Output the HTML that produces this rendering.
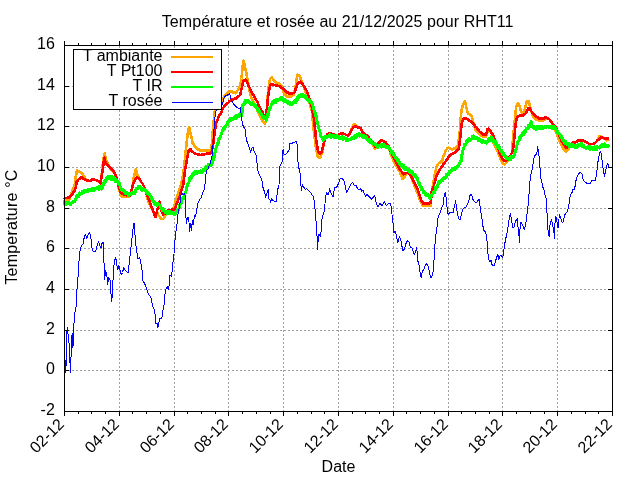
<!DOCTYPE html>
<html lang="fr"><head><meta charset="utf-8"><title>Température et rosée au 21/12/2025 pour RHT11</title>
<style>html,body{margin:0;padding:0;background:#fff}body{width:640px;height:480px;overflow:hidden}svg{display:block;filter:opacity(0.999)}text{font-family:"Liberation Sans",sans-serif;font-size:16px;fill:#000}</style></head><body>
<svg width="640" height="480" viewBox="0 0 640 480">
<rect width="640" height="480" fill="#fff"/>
<path d="M119.5,46 V411 M174.5,46 V411 M228.5,46 V411 M283.5,46 V411 M338.5,46 V411 M393.5,46 V411 M448.5,46 V411 M502.5,46 V411 M557.5,46 V411 M64,86.5 H612 M64,126.5 H612 M64,167.5 H612 M64,208.5 H612 M64,248.5 H612 M64,289.5 H612 M64,330.5 H612 M64,370.5 H612" stroke="#a0a0a0" stroke-width="1" stroke-dasharray="2,2" fill="none" shape-rendering="crispEdges"/>
<path d="M64.5,411 V416 M64.5,46 V41 M119.5,411 V416 M119.5,46 V41 M174.5,411 V416 M174.5,46 V41 M228.5,411 V416 M228.5,46 V41 M283.5,411 V416 M283.5,46 V41 M338.5,411 V416 M338.5,46 V41 M393.5,411 V416 M393.5,46 V41 M448.5,411 V416 M448.5,46 V41 M502.5,411 V416 M502.5,46 V41 M557.5,411 V416 M557.5,46 V41 M612.5,411 V416 M612.5,46 V41 M78.5,411 V414 M78.5,46 V43 M91.5,411 V414 M91.5,46 V43 M105.5,411 V414 M105.5,46 V43 M132.5,411 V414 M132.5,46 V43 M146.5,411 V414 M146.5,46 V43 M160.5,411 V414 M160.5,46 V43 M187.5,411 V414 M187.5,46 V43 M201.5,411 V414 M201.5,46 V43 M215.5,411 V414 M215.5,46 V43 M242.5,411 V414 M242.5,46 V43 M256.5,411 V414 M256.5,46 V43 M270.5,411 V414 M270.5,46 V43 M297.5,411 V414 M297.5,46 V43 M311.5,411 V414 M311.5,46 V43 M324.5,411 V414 M324.5,46 V43 M352.5,411 V414 M352.5,46 V43 M365.5,411 V414 M365.5,46 V43 M379.5,411 V414 M379.5,46 V43 M406.5,411 V414 M406.5,46 V43 M420.5,411 V414 M420.5,46 V43 M434.5,411 V414 M434.5,46 V43 M461.5,411 V414 M461.5,46 V43 M475.5,411 V414 M475.5,46 V43 M489.5,411 V414 M489.5,46 V43 M516.5,411 V414 M516.5,46 V43 M530.5,411 V414 M530.5,46 V43 M544.5,411 V414 M544.5,46 V43 M571.5,411 V414 M571.5,46 V43 M585.5,411 V414 M585.5,46 V43 M598.5,411 V414 M598.5,46 V43 M64,45.5 H69 M613,45.5 H608 M64,86.5 H69 M613,86.5 H608 M64,126.5 H69 M613,126.5 H608 M64,167.5 H69 M613,167.5 H608 M64,208.5 H69 M613,208.5 H608 M64,248.5 H69 M613,248.5 H608 M64,289.5 H69 M613,289.5 H608 M64,330.5 H69 M613,330.5 H608 M64,370.5 H69 M613,370.5 H608 M64,411.5 H69 M613,411.5 H608" stroke="#000" stroke-width="1" fill="none" shape-rendering="crispEdges"/>
<g fill="none" stroke-linejoin="round" stroke-linecap="butt" shape-rendering="crispEdges">
<path d="M63.60,199.35 L64.10,199.53 L64.60,199.71 L65.10,199.63 L65.60,199.61 L66.10,199.36 L66.60,199.57 L67.10,199.32 L67.60,198.93 L68.10,199.13 L68.60,198.79 L69.10,199.34 L69.60,198.75 L70.10,196.92 L70.60,195.49 L71.10,194.43 L71.60,192.73 L72.10,191.41 L72.60,190.13 L73.10,188.97 L73.60,187.89 L74.10,186.85 L74.60,185.05 L75.10,181.99 L75.60,177.54 L76.10,175.13 L76.60,172.41 L77.10,170.47 L77.60,171.07 L78.10,170.96 L78.60,171.14 L79.10,171.67 L79.60,172.19 L80.10,172.28 L80.60,172.26 L81.10,172.95 L81.60,173.25 L82.10,173.22 L82.60,174.13 L83.10,175.02 L83.60,175.97 L84.10,176.18 L84.60,177.25 L85.10,178.33 L85.60,178.86 L86.10,179.72 L86.25,179.99" stroke="#ffa500" stroke-width="2.6"/>
<path d="M100.80,183.06 L101.30,178.01 L101.80,173.78 L102.30,169.05 L102.80,164.04 L103.30,160.38 L103.80,157.59 L104.30,155.13 L104.80,153.23 L105.30,156.27 L105.80,158.69 L106.30,160.95 L106.80,161.35 L107.30,162.47 L107.80,163.36 L108.30,164.76 L108.80,165.40 L109.30,166.39 L109.80,167.21 L110.30,168.35 L110.80,169.10 L111.30,169.85 L111.80,170.50 L112.30,170.91 L112.80,171.28 L113.30,172.28 L113.80,172.68 L114.30,173.17 L114.80,173.82 L115.30,174.43 L115.80,175.67 L116.30,176.95 L116.80,178.18 L117.30,180.83 L117.80,183.14 L118.30,186.23 L118.80,188.91 L119.30,190.17 L119.80,191.33 L120.30,193.20 L120.80,194.10 L121.30,195.88 L121.80,196.98 L122.30,197.10 L122.80,197.10 L123.30,196.93 L123.80,196.89 L124.30,197.16 L124.80,197.10 L125.30,196.80 L125.80,197.01 L126.30,196.88 L126.80,196.90 L127.30,197.16 L127.80,196.77 L128.30,197.16 L128.80,196.96 L129.30,196.20 L129.80,194.97 L130.30,194.27 L130.80,193.47 L131.30,192.23 L131.80,190.70 L132.30,187.56 L132.80,184.16 L133.30,180.27 L133.80,177.41 L134.30,175.17 L134.80,172.89 L135.30,170.58 L135.80,169.32 L136.30,170.76 L136.80,172.62 L137.30,174.00 L137.80,175.36 L138.30,176.19 L138.80,177.65 L139.30,178.27 L139.80,179.76 L140.30,180.57 L140.80,181.04 L141.00,181.20" stroke="#ffa500" stroke-width="2.6"/>
<path d="M146.50,195.75 L147.00,197.53 L147.50,198.66 L148.00,200.48 L148.50,201.85 L149.00,202.93 L149.50,204.10 L150.00,205.08 L150.50,205.73 L151.00,207.06 L151.50,208.12 L152.00,209.04 L152.50,210.29 L153.00,211.18 L153.50,211.92 L154.00,212.90 L154.50,214.02 L155.00,215.69 L155.50,216.80 L155.60,216.98" stroke="#ffa500" stroke-width="2.6"/>
<path d="M157.00,212.34 L157.50,213.33 L158.00,214.88 L158.50,215.64 L159.00,215.87 L159.50,216.37 L160.00,217.33 L160.50,217.59 L161.00,218.37 L161.50,219.11 L162.00,219.27 L162.50,218.92 L163.00,219.07 L163.50,218.50 L164.00,218.05 L164.50,216.60 L165.00,215.86 L165.50,214.90 L166.00,213.90 L166.50,213.12 L167.00,211.83 L167.50,210.94 L167.50,211.16" stroke="#ffa500" stroke-width="2.6"/>
<path d="M173.00,210.32 L173.50,208.68 L174.00,207.00 L174.50,205.07 L175.00,203.49 L175.50,201.79 L176.00,199.89 L176.50,197.59 L177.00,196.26 L177.50,195.33 L178.00,193.35 L178.50,192.30 L179.00,190.63 L179.50,189.41 L180.00,188.13 L180.50,186.49 L181.00,184.92 L181.50,182.54 L182.00,180.42 L182.50,178.09 L183.00,174.74 L183.50,171.58 L184.00,167.97 L184.50,163.65 L185.00,158.58 L185.50,153.60 L186.00,148.54 L186.50,144.28 L187.00,139.82 L187.50,135.23 L188.00,132.09 L188.50,129.47 L189.00,127.09 L189.50,128.14 L190.00,131.09 L190.50,133.04 L191.00,135.83 L191.50,137.57 L192.00,140.31 L192.50,142.71 L193.00,143.41 L193.50,144.35 L194.00,145.43 L194.50,146.37 L195.00,146.68 L195.50,147.33 L196.00,147.40 L196.50,148.05 L197.00,148.30 L197.50,148.73 L198.00,149.47 L198.50,149.50 L199.00,149.79 L199.50,149.76 L200.00,150.39 L200.50,150.06 L201.00,150.01 L201.50,150.46 L202.00,150.60 L202.50,150.61 L203.00,150.62 L203.50,150.56 L204.00,150.61 L204.50,150.25 L205.00,150.54 L205.50,150.36 L206.00,150.39 L206.50,150.34 L207.00,150.27 L207.50,150.22 L208.00,150.39 L208.50,150.70 L209.00,150.76 L209.50,150.55 L210.00,151.34 L210.50,151.01 L211.00,149.94 L211.50,148.29 L212.00,141.94 L212.50,135.05 L213.00,129.06 L213.50,123.22 L214.00,118.08 L214.50,113.86 L215.00,110.05 L215.50,109.32 L216.00,108.10 L216.50,107.24 L217.00,105.66 L217.50,105.13 L218.00,103.80 L218.00,103.76" stroke="#ffa500" stroke-width="2.6"/>
<path d="M222.50,102.76 L223.00,99.89 L223.50,97.70 L224.00,96.32 L224.50,95.37 L225.00,95.19 L225.50,94.38 L226.00,93.76 L226.50,93.39 L227.00,93.20 L227.50,92.41 L228.00,92.40 L228.50,91.81 L229.00,91.31 L229.50,91.22 L230.00,91.30 L230.50,91.45 L231.00,91.85 L231.50,91.98 L232.00,91.60 L232.50,92.24 L233.00,92.17 L233.50,92.61 L234.00,92.70 L234.50,92.69 L235.00,92.69 L235.50,93.36 L236.00,92.90 L236.50,91.94 L237.00,90.90 L237.50,90.70 L238.00,89.97 L238.50,89.36 L239.00,88.33 L239.50,86.83 L240.00,85.17 L240.50,83.42 L241.00,82.02 L241.50,78.50 L242.00,73.18 L242.50,67.59 L243.00,64.28 L243.50,60.61 L244.00,62.55 L244.50,64.69 L245.00,66.45 L245.50,69.18 L246.00,71.65 L246.50,73.88 L247.00,76.76 L247.50,79.53 L248.00,82.36 L248.50,84.82 L249.00,87.28 L249.50,90.01 L250.00,92.70 L250.50,94.76 L251.00,96.83 L251.50,98.06 L252.00,98.67 L252.50,99.80 L253.00,100.71 L253.50,102.28 L254.00,102.91 L254.50,104.19 L255.00,105.01 L255.50,106.11 L256.00,107.42 L256.50,108.43 L257.00,109.18 L257.50,110.72 L258.00,111.68 L258.50,113.26 L259.00,113.92 L259.50,115.02 L260.00,116.51 L260.50,117.16 L261.00,117.93 L261.50,119.44 L262.00,120.54 L262.50,121.24 L263.00,121.52 L263.50,122.51 L264.00,122.64 L264.50,123.07 L265.00,123.43 L265.50,122.52 L266.00,120.56 L266.50,115.52 L267.00,107.27 L267.50,99.47 L268.00,91.90 L268.50,87.43 L269.00,84.75 L269.50,81.55 L270.00,79.00 L270.50,78.41 L271.00,78.22 L271.50,78.00 L272.00,77.67 L272.50,78.38 L273.00,78.81 L273.50,79.67 L274.00,80.78 L274.50,81.49 L275.00,81.66 L275.50,81.59 L276.00,82.38 L276.50,82.75 L277.00,83.05 L277.50,83.28 L278.00,83.34 L278.50,83.25 L279.00,83.39 L279.50,83.40 L280.00,83.85 L280.50,84.47 L281.00,85.62 L281.50,86.05 L282.00,87.04 L282.50,88.43 L283.00,90.08 L283.50,91.94 L284.00,93.03 L284.50,93.68 L285.00,93.66 L285.50,94.71 L286.00,95.22 L286.50,95.67 L287.00,96.58 L287.50,96.50 L288.00,96.35 L288.50,96.82 L289.00,96.65 L289.50,96.77 L290.00,96.88 L290.50,96.63 L291.00,96.06 L291.50,96.36 L292.00,95.75 L292.50,95.60 L293.00,95.15 L293.50,95.17 L294.00,93.66 L294.50,91.57 L295.00,89.62 L295.50,87.05 L296.00,83.22 L296.50,80.04 L297.00,76.85 L297.50,74.37 L298.00,74.88 L298.50,75.20 L299.00,75.31 L299.50,75.54 L300.00,76.94 L300.50,78.53 L301.00,79.68 L301.50,80.76 L302.00,81.92 L302.50,83.45 L303.00,84.78 L303.50,86.08 L304.00,87.75 L304.50,88.93 L305.00,90.00 L305.50,91.83 L306.00,93.19 L306.50,94.17 L307.00,95.85 L307.50,97.56 L308.00,98.71 L308.50,100.12 L309.00,101.37 L309.50,102.80 L310.00,104.94 L310.50,106.20 L311.00,108.07 L311.50,109.57 L312.00,112.30 L312.50,117.61 L313.00,122.57 L313.50,127.70 L314.00,132.14 L314.50,136.79 L315.00,140.61 L315.50,144.31 L316.00,148.43 L316.50,150.81 L317.00,153.02 L317.50,155.42 L318.00,157.03 L318.50,157.60 L319.00,157.73 L319.50,157.82 L320.00,157.97 L320.50,157.19 L321.00,155.47 L321.50,154.36 L322.00,153.48 L322.50,151.00 L323.00,148.37 L323.50,145.99 L323.50,145.98" stroke="#ffa500" stroke-width="2.6"/>
<path d="M350.50,132.15 L351.00,130.84 L351.50,128.79 L352.00,128.00 L352.50,126.47 L353.00,125.45 L353.50,125.49 L354.00,125.00 L354.50,124.25 L355.00,125.12 L355.50,125.02 L356.00,125.40 L356.50,125.98 L357.00,126.55 L357.50,127.13 L358.00,127.34 L358.00,127.49" stroke="#ffa500" stroke-width="2.6"/>
<path d="M371.00,140.82 L371.50,142.01 L372.00,143.24 L372.50,143.97 L373.00,144.81 L373.50,145.64 L374.00,146.50 L374.50,148.10 L375.00,148.93 L375.50,148.32 L376.00,148.30 L376.50,147.83 L377.00,147.13 L377.50,145.85 L378.00,145.04 L378.10,144.78" stroke="#ffa500" stroke-width="2.6"/>
<path d="M389.00,147.74 L389.50,150.05 L390.00,151.93 L390.50,153.42 L391.00,155.18 L391.50,156.54 L392.00,157.46 L392.50,158.55 L393.00,159.54 L393.50,161.00 L394.00,161.53 L394.50,162.53 L395.00,164.05 L395.50,164.92 L396.00,165.22 L396.50,166.25 L397.00,167.59 L397.50,168.05 L398.00,169.09 L398.50,170.01 L399.00,170.85 L399.50,171.31 L400.00,172.66 L400.50,173.97 L401.00,174.96 L401.50,176.14 L402.00,177.66 L402.50,179.09 L403.00,178.73 L403.50,177.88 L404.00,177.94 L404.50,177.27 L405.00,176.53 L405.50,175.42 L406.00,173.99 L406.00,174.28" stroke="#ffa500" stroke-width="2.6"/>
<path d="M410.50,175.85 L411.00,177.11 L411.50,178.30 L412.00,179.12 L412.50,180.54 L413.00,181.99 L413.50,182.95 L414.00,184.19 L414.50,185.64 L415.00,186.67 L415.50,187.81 L416.00,189.47 L416.50,190.26 L417.00,192.09 L417.50,193.49 L418.00,194.67 L418.50,196.06 L419.00,197.16 L419.50,198.64 L420.00,200.40 L420.50,201.41 L421.00,202.37 L421.50,203.07 L422.00,204.52 L422.50,205.56 L423.00,205.55 L423.50,205.49 L424.00,205.41 L424.50,205.47 L425.00,205.36 L425.50,205.36 L426.00,206.09 L426.50,205.72 L427.00,205.69 L427.50,205.73 L428.00,206.06 L428.50,205.99 L429.00,205.81 L429.50,205.86 L430.00,205.65 L430.50,205.72 L431.00,200.74 L431.50,195.12 L432.00,190.93 L432.50,187.48 L433.00,184.60 L433.50,181.70 L434.00,178.92 L434.50,175.97 L435.00,173.36 L435.50,171.03 L436.00,168.88 L436.50,167.17 L437.00,165.88 L437.50,164.89 L438.00,164.03 L438.50,163.48 L439.00,163.28 L439.50,163.08 L440.00,162.44 L440.50,162.23 L441.00,161.63 L441.50,161.73 L442.00,161.08 L442.50,159.49 L443.00,157.78 L443.50,156.08 L444.00,154.80 L444.50,153.57 L445.00,152.69 L445.50,151.31 L446.00,150.27 L446.50,149.51 L447.00,148.67 L447.50,148.21 L448.00,148.23 L448.50,147.64 L449.00,147.88 L449.50,147.92 L450.00,148.06 L450.50,148.87 L451.00,149.03 L451.50,149.37 L452.00,149.51 L452.50,149.50 L453.00,149.28 L453.50,148.54 L454.00,148.37 L454.50,148.17 L455.00,148.48 L455.50,148.13 L456.00,147.75 L456.50,146.70 L457.00,146.14 L457.50,146.01 L458.00,145.21 L458.50,141.73 L459.00,137.92 L459.50,134.60 L460.00,128.99 L460.50,120.98 L461.00,114.09 L461.50,110.99 L462.00,108.67 L462.50,106.34 L463.00,104.80 L463.50,104.01 L464.00,102.58 L464.50,101.91 L465.00,101.00 L465.50,103.45 L466.00,106.37 L466.50,108.09 L467.00,109.98 L467.50,111.85 L468.00,113.61 L468.50,113.94 L469.00,114.24 L469.50,114.41 L470.00,114.31 L470.50,114.51 L471.00,115.22 L471.50,115.67 L472.00,117.82 L472.50,118.91 L473.00,120.78 L473.50,122.77 L474.00,124.21 L474.50,126.50 L475.00,127.99 L475.50,129.92 L476.00,130.60 L476.50,131.32 L477.00,131.41 L477.50,132.17 L478.00,132.68 L478.50,133.37 L479.00,133.65 L479.50,134.00 L480.00,134.59 L480.50,135.23 L481.00,135.35 L481.50,135.69 L482.00,136.20 L482.50,136.31 L483.00,136.40 L483.50,136.53 L484.00,136.58 L484.50,136.43 L485.00,136.49 L485.50,137.13 L486.00,136.11 L486.50,135.39 L487.00,133.91 L487.50,132.17 L488.00,129.29 L488.00,128.66" stroke="#ffa500" stroke-width="2.6"/>
<path d="M491.50,134.30 L492.00,136.09 L492.50,138.56 L493.00,140.32 L493.50,142.65 L494.00,144.09 L494.50,145.28 L495.00,145.95 L495.50,147.19 L496.00,148.12 L496.50,148.93 L497.00,150.47 L497.50,151.54 L498.00,152.26 L498.50,153.84 L499.00,155.02 L499.50,156.20 L500.00,157.56 L500.50,158.73 L501.00,159.58 L501.50,160.76 L502.00,161.99 L502.50,163.45 L503.00,163.74 L503.50,163.98 L504.00,164.10 L504.50,164.59 L505.00,164.14 L505.50,163.57 L506.00,162.59 L506.50,162.24 L507.00,161.52 L507.50,160.75 L508.00,160.11 L508.50,158.92 L509.00,157.88 L509.00,157.77" stroke="#ffa500" stroke-width="2.6"/>
<path d="M512.30,150.23 L512.80,141.67 L513.30,135.31 L513.80,130.00 L514.30,124.93 L514.80,120.08 L515.30,114.95 L515.80,110.27 L516.30,106.09 L516.80,104.91 L517.30,104.16 L517.80,103.12 L518.30,103.85 L518.80,104.54 L519.30,105.25 L519.80,107.11 L520.30,108.95 L520.80,110.26 L521.30,112.15 L521.80,112.13 L522.30,112.76 L522.80,112.72 L523.30,112.69 L523.80,111.43 L524.30,110.61 L524.80,109.39 L525.30,107.29 L525.80,105.31 L526.30,103.59 L526.80,101.45 L527.30,100.90 L527.80,101.20 L528.30,100.99 L528.80,101.46 L529.30,103.47 L529.80,105.88 L530.30,107.98 L530.80,109.83 L531.30,111.52 L531.80,112.90 L532.30,114.08 L532.80,115.43 L533.30,116.75 L533.80,116.86 L534.30,117.89 L534.80,118.55 L535.30,118.78 L535.80,119.64 L536.30,119.36 L536.80,120.05 L537.30,120.05 L537.80,119.97 L538.30,120.20 L538.80,120.60 L539.30,120.32 L539.80,120.34 L540.30,120.68 L540.80,120.75 L541.30,120.15 L541.80,120.50 L542.30,120.15 L542.80,120.28 L543.30,120.06 L543.80,120.29 L544.30,119.72 L544.80,119.70 L545.30,119.39 L545.80,118.51 L546.25,118.81" stroke="#ffa500" stroke-width="2.6"/>
<path d="M554.00,125.99 L554.50,127.58 L555.00,129.01 L555.50,130.53 L556.00,132.14 L556.50,133.50 L557.00,134.55 L557.50,136.05 L558.00,137.43 L558.50,138.59 L559.00,140.20 L559.50,141.25 L560.00,142.28 L560.50,143.40 L561.00,144.28 L561.50,145.44 L562.00,146.56 L562.50,146.93 L563.00,148.02 L563.50,148.84 L564.00,149.73 L564.50,149.98 L565.00,150.35 L565.50,151.27 L566.00,151.51 L566.50,151.67 L567.00,151.17 L567.50,150.27 L568.00,149.82 L568.50,148.90 L569.00,147.48 L569.50,146.72 L570.00,146.11 L570.00,145.98" stroke="#ffa500" stroke-width="2.6"/>
<path d="M597.00,140.67 L597.50,140.36 L598.00,139.36 L598.50,137.96 L599.00,137.43 L599.50,136.32 L600.00,135.87 L600.50,136.16 L601.00,136.09 L601.50,136.62 L602.00,136.86 L602.50,137.03 L603.00,137.45 L603.50,137.81 L604.00,138.25 L604.50,138.97 L605.00,139.20 L605.50,139.10 L606.00,139.70 L606.50,140.33 L607.00,140.18 L607.50,140.07 L608.00,140.10 L608.50,140.13 L608.75,139.77" stroke="#ffa500" stroke-width="2.6"/>
<path d="M63.60,197.84 L64.10,198.29 L64.60,198.17 L65.10,197.76 L65.60,197.87 L66.10,197.78 L66.60,197.87 L67.10,197.92 L67.60,197.39 L68.10,197.29 L68.60,197.81 L69.10,197.48 L69.60,197.48 L70.10,196.45 L70.60,196.26 L71.10,195.96 L71.60,195.11 L72.10,195.01 L72.60,194.23 L73.10,192.87 L73.60,192.12 L74.10,191.73 L74.60,191.01 L75.10,189.26 L75.60,187.79 L76.10,185.75 L76.60,181.90 L77.10,181.37 L77.60,180.86 L78.10,180.24 L78.60,179.39 L79.10,178.98 L79.60,178.67 L80.10,178.54 L80.60,178.12 L81.10,177.63 L81.60,177.90 L82.10,177.67 L82.60,178.03 L83.10,178.02 L83.60,178.88 L84.10,179.09 L84.60,178.87 L85.10,179.30 L85.60,179.79 L86.10,180.00 L86.60,180.37 L87.10,180.23 L87.60,180.73 L88.10,180.84 L88.60,180.80 L89.10,180.95 L89.60,180.99 L90.10,180.80 L90.60,180.40 L91.10,180.30 L91.60,179.75 L92.10,179.73 L92.60,179.96 L93.10,179.53 L93.60,179.19 L94.10,179.53 L94.60,179.80 L95.10,179.95 L95.60,179.90 L96.10,180.12 L96.60,180.33 L97.10,180.69 L97.60,180.72 L98.10,181.03 L98.60,181.50 L99.10,181.58 L99.60,181.99 L100.10,182.85 L100.60,183.44 L101.10,180.18 L101.60,176.88 L102.10,173.55 L102.60,170.45 L103.10,166.79 L103.60,162.64 L104.10,158.48 L104.60,157.74 L105.10,160.05 L105.60,163.00 L106.10,163.92 L106.60,164.15 L107.10,164.57 L107.60,164.94 L108.10,165.63 L108.60,166.42 L109.10,166.25 L109.60,167.30 L110.10,167.82 L110.60,168.37 L111.10,168.77 L111.60,169.32 L112.10,169.61 L112.60,170.14 L113.10,170.55 L113.60,170.79 L114.10,172.38 L114.60,173.42 L115.10,174.41 L115.60,175.88 L116.10,177.11 L116.60,178.62 L117.10,180.37 L117.60,182.25 L118.10,184.06 L118.60,185.80 L119.10,187.39 L119.60,188.75 L120.10,190.56 L120.60,192.19 L121.10,192.83 L121.60,193.31 L122.10,193.55 L122.60,193.84 L123.10,194.14 L123.60,194.03 L124.10,194.72 L124.60,194.89 L125.10,194.72 L125.60,194.74 L126.10,194.80 L126.60,195.38 L127.10,195.09 L127.60,195.05 L128.10,195.47 L128.60,195.34 L129.10,195.21 L129.60,195.34 L130.10,195.34 L130.60,193.59 L131.10,192.17 L131.60,190.51 L132.10,188.16 L132.60,185.90 L133.10,183.84 L133.60,182.47 L134.10,181.72 L134.60,180.74 L135.10,179.58 L135.60,178.53 L136.10,178.71 L136.60,178.11 L137.10,177.56 L137.60,177.67 L138.10,178.32 L138.60,178.26 L139.10,178.76 L139.60,179.35 L140.10,180.30 L140.60,180.66 L141.10,181.79 L141.60,182.52 L142.10,183.18 L142.60,183.70 L143.10,184.98 L143.60,185.61 L144.10,186.77 L144.60,188.19 L145.10,190.12 L145.60,191.56 L146.10,193.32 L146.60,194.44 L147.10,195.82 L147.60,196.59 L148.10,197.93 L148.60,199.56 L149.10,200.66 L149.60,201.43 L150.10,203.03 L150.60,204.05 L151.10,205.89 L151.60,207.15 L152.10,208.32 L152.60,209.61 L153.10,210.84 L153.60,212.58 L154.10,213.12 L154.60,214.79 L155.10,216.02 L155.60,216.87 L156.10,214.51 L156.60,212.74 L157.10,210.80 L157.60,208.87 L158.10,207.00 L158.60,205.16 L159.10,203.40 L159.60,201.57 L160.10,204.37 L160.60,208.49 L161.10,209.72 L161.60,210.91 L162.10,212.55 L162.60,213.54 L163.10,214.94 L163.60,214.40 L164.10,214.29 L164.60,213.80 L165.10,212.69 L165.60,212.32 L166.10,212.00 L166.60,212.06 L167.10,211.52 L167.60,210.81 L168.10,210.32 L168.60,210.24 L169.10,210.21 L169.60,210.25 L170.10,209.80 L170.60,210.14 L171.10,209.97 L171.60,209.80 L172.10,210.12 L172.60,209.56 L173.10,209.87 L173.60,209.39 L174.10,209.41 L174.60,209.36 L175.10,207.63 L175.60,206.78 L176.10,205.43 L176.60,204.36 L177.10,202.72 L177.60,201.35 L178.10,199.97 L178.60,199.03 L179.10,197.50 L179.60,196.39 L180.10,194.96 L180.60,192.90 L181.10,191.65 L181.60,189.80 L182.10,188.22 L182.60,186.70 L183.10,185.72 L183.60,182.20 L184.10,177.94 L184.60,173.32 L185.10,169.55 L185.60,167.00 L186.10,164.05 L186.60,161.52 L187.10,158.61 L187.60,155.84 L188.10,153.30 L188.60,151.07 L189.10,149.93 L189.60,150.01 L190.10,149.52 L190.60,149.23 L191.10,150.17 L191.60,150.82 L192.10,150.88 L192.60,151.96 L193.10,152.18 L193.60,152.47 L194.10,153.26 L194.60,152.92 L195.10,153.31 L195.60,154.08 L196.10,153.93 L196.60,153.97 L197.10,154.17 L197.60,154.30 L198.10,154.72 L198.60,154.34 L199.10,154.98 L199.60,154.68 L200.10,155.16 L200.60,155.19 L201.10,154.83 L201.60,154.74 L202.10,154.77 L202.60,154.38 L203.10,154.64 L203.60,154.09 L204.10,153.94 L204.60,154.50 L205.10,153.89 L205.60,153.98 L206.10,153.75 L206.60,153.58 L207.10,153.34 L207.60,153.87 L208.10,153.85 L208.60,153.79 L209.10,153.12 L209.60,153.13 L210.10,153.35 L210.60,153.54 L211.10,153.17 L211.60,151.74 L212.10,149.55 L212.60,147.11 L213.10,145.14 L213.60,141.07 L214.10,137.02 L214.60,132.91 L215.10,129.25 L215.60,126.74 L216.10,123.36 L216.60,121.73 L217.10,120.48 L217.60,119.43 L218.10,117.80 L218.60,116.49 L219.10,115.69 L219.60,115.06 L220.10,114.81 L220.60,114.21 L221.10,113.17 L221.60,111.78 L222.10,110.18 L222.60,108.69 L223.10,108.13 L223.60,107.31 L224.10,106.59 L224.60,106.17 L225.10,105.48 L225.60,105.24 L226.10,104.34 L226.60,103.77 L227.10,103.65 L227.60,102.98 L228.10,102.90 L228.60,102.27 L229.10,102.10 L229.60,101.17 L230.10,100.99 L230.60,100.76 L231.10,99.83 L231.60,100.21 L232.10,99.53 L232.60,99.81 L233.10,99.81 L233.60,99.55 L234.10,99.06 L234.60,98.77 L235.10,98.91 L235.60,99.05 L236.10,98.20 L236.60,98.19 L237.10,97.23 L237.60,97.34 L238.10,96.30 L238.60,96.07 L239.10,96.05 L239.60,95.56 L240.10,94.89 L240.60,92.84 L241.10,90.77 L241.60,88.73 L242.10,86.37 L242.60,84.55 L243.10,82.36 L243.60,80.75 L244.10,80.12 L244.60,79.83 L245.10,79.70 L245.60,80.32 L246.10,80.22 L246.60,80.91 L247.10,82.15 L247.60,83.62 L248.10,84.59 L248.60,85.80 L249.10,86.84 L249.60,87.78 L250.10,88.62 L250.60,90.05 L251.10,90.89 L251.60,92.00 L252.10,92.64 L252.60,93.82 L253.10,94.50 L253.60,95.32 L254.10,96.25 L254.60,97.48 L255.10,98.01 L255.60,98.85 L256.10,99.83 L256.60,100.51 L257.10,101.36 L257.60,102.72 L258.10,103.70 L258.60,104.80 L259.10,105.66 L259.60,106.83 L260.10,107.86 L260.60,108.52 L261.10,109.70 L261.60,110.69 L262.10,111.51 L262.60,112.64 L263.10,113.74 L263.60,114.98 L264.10,115.99 L264.60,116.54 L265.10,117.80 L265.60,118.38 L266.10,114.65 L266.60,110.96 L267.10,106.76 L267.60,101.26 L268.10,96.69 L268.60,93.83 L269.10,90.59 L269.60,88.03 L270.10,85.77 L270.60,84.94 L271.10,84.67 L271.60,84.19 L272.10,83.93 L272.60,84.36 L273.10,84.64 L273.60,84.93 L274.10,84.91 L274.60,84.89 L275.10,85.19 L275.60,85.41 L276.10,85.74 L276.60,85.94 L277.10,85.52 L277.60,86.03 L278.10,86.13 L278.60,85.94 L279.10,86.13 L279.60,85.96 L280.10,86.49 L280.60,86.41 L281.10,87.47 L281.60,87.75 L282.10,88.02 L282.60,88.17 L283.10,89.02 L283.60,89.55 L284.10,89.47 L284.60,90.42 L285.10,90.96 L285.60,91.34 L286.10,91.87 L286.60,92.01 L287.10,92.60 L287.60,92.88 L288.10,92.72 L288.60,93.26 L289.10,93.25 L289.60,93.32 L290.10,93.61 L290.60,93.40 L291.10,93.88 L291.60,93.84 L292.10,93.18 L292.60,93.45 L293.10,93.24 L293.60,92.97 L294.10,93.02 L294.60,92.27 L295.10,91.12 L295.60,89.10 L296.10,87.73 L296.60,86.52 L297.10,84.90 L297.60,83.99 L298.10,82.64 L298.60,82.62 L299.10,82.05 L299.60,81.98 L300.10,82.04 L300.60,81.72 L301.10,82.51 L301.60,82.87 L302.10,83.77 L302.60,84.45 L303.10,85.06 L303.60,85.78 L304.10,86.29 L304.60,87.15 L305.10,88.30 L305.60,89.14 L306.10,89.90 L306.60,90.67 L307.10,91.77 L307.60,93.15 L308.10,95.14 L308.60,96.16 L309.10,98.10 L309.60,99.57 L310.10,101.61 L310.60,103.22 L311.10,105.12 L311.60,106.28 L312.10,108.70 L312.60,111.42 L313.10,113.90 L313.60,116.70 L314.10,120.55 L314.60,125.17 L315.10,129.40 L315.60,134.71 L316.10,139.71 L316.60,142.98 L317.10,145.71 L317.60,148.65 L318.10,151.25 L318.60,151.88 L319.10,152.65 L319.60,153.13 L320.10,153.41 L320.60,152.60 L321.10,152.13 L321.60,151.69 L322.10,150.62 L322.60,148.58 L323.10,146.36 L323.60,144.69 L324.10,142.32 L324.60,140.92 L325.10,139.37 L325.60,138.36 L326.10,137.28 L326.60,135.55 L327.10,134.63 L327.60,134.65 L328.10,134.29 L328.60,133.87 L329.10,133.32 L329.60,133.29 L330.10,133.11 L330.60,133.30 L331.10,133.82 L331.60,133.82 L332.10,134.13 L332.60,134.44 L333.10,134.54 L333.60,134.45 L334.10,134.71 L334.60,134.72 L335.10,134.81 L335.60,134.88 L336.10,134.81 L336.60,135.04 L337.10,135.00 L337.60,135.02 L338.10,134.71 L338.60,134.55 L339.10,134.30 L339.60,134.13 L340.10,133.78 L340.60,133.40 L341.10,133.40 L341.60,133.78 L342.10,133.96 L342.60,133.79 L343.10,133.59 L343.60,134.13 L344.10,133.95 L344.60,134.09 L345.10,134.06 L345.60,134.64 L346.10,135.07 L346.60,135.10 L347.10,135.32 L347.60,135.63 L348.10,134.69 L348.60,134.53 L349.10,134.34 L349.60,133.66 L350.10,132.86 L350.60,132.06 L351.10,131.00 L351.60,129.72 L352.10,128.72 L352.60,128.32 L353.10,127.51 L353.60,127.00 L354.10,127.16 L354.60,126.57 L355.10,126.20 L355.60,126.50 L356.10,126.86 L356.60,126.66 L357.10,127.20 L357.60,127.44 L358.10,127.71 L358.60,127.46 L359.10,127.82 L359.60,127.68 L360.10,128.04 L360.60,127.89 L361.10,129.44 L361.60,130.66 L362.10,131.45 L362.60,132.37 L363.10,133.22 L363.60,133.38 L364.10,133.81 L364.60,133.57 L365.10,134.51 L365.60,134.65 L366.10,134.77 L366.60,135.30 L367.10,136.03 L367.60,136.55 L368.10,136.63 L368.60,137.44 L369.10,137.62 L369.60,138.68 L370.10,138.83 L370.60,139.74 L371.10,140.19 L371.60,140.69 L372.10,141.03 L372.60,141.80 L373.10,142.11 L373.60,142.70 L374.10,144.15 L374.60,145.15 L375.10,146.34 L375.60,145.57 L376.10,145.49 L376.60,145.07 L377.10,144.36 L377.60,143.81 L378.10,143.59 L378.60,143.24 L379.10,142.49 L379.60,142.06 L380.10,141.46 L380.60,141.34 L381.10,141.05 L381.60,140.08 L382.10,139.81 L382.60,140.58 L383.10,140.96 L383.60,141.36 L384.10,141.41 L384.60,141.52 L385.10,142.24 L385.60,142.41 L386.10,143.48 L386.60,143.72 L387.10,144.60 L387.60,145.34 L388.10,145.92 L388.60,146.44 L389.10,147.46 L389.60,148.97 L390.10,149.82 L390.60,151.00 L391.10,151.84 L391.60,153.30 L392.10,154.08 L392.60,155.27 L393.10,156.49 L393.60,157.55 L394.10,157.88 L394.60,159.41 L395.10,160.45 L395.60,161.07 L396.10,162.12 L396.60,163.26 L397.10,164.49 L397.60,165.13 L398.10,166.47 L398.60,167.19 L399.10,167.57 L399.60,168.90 L400.10,169.07 L400.60,169.96 L401.10,171.13 L401.60,171.52 L402.10,172.58 L402.60,173.24 L403.10,174.31 L403.60,174.38 L404.10,174.17 L404.60,173.31 L405.10,173.08 L405.60,173.38 L406.10,172.87 L406.60,173.11 L407.10,173.07 L407.60,173.12 L408.10,173.15 L408.60,173.65 L409.10,173.79 L409.60,173.82 L410.10,174.19 L410.60,175.06 L411.10,175.87 L411.60,177.04 L412.10,178.28 L412.60,179.05 L413.10,179.77 L413.60,180.64 L414.10,182.25 L414.60,183.01 L415.10,183.84 L415.60,185.02 L416.10,185.99 L416.60,186.97 L417.10,187.87 L417.60,189.57 L418.10,191.11 L418.60,192.46 L419.10,194.44 L419.60,195.54 L420.10,197.03 L420.60,198.39 L421.10,199.74 L421.60,200.95 L422.10,201.85 L422.60,202.38 L423.10,203.59 L423.60,203.02 L424.10,203.57 L424.60,203.54 L425.10,203.55 L425.60,203.00 L426.10,203.04 L426.60,203.56 L427.10,203.33 L427.60,203.27 L428.10,203.71 L428.60,203.03 L429.10,203.35 L429.60,203.27 L430.10,203.02 L430.60,203.18 L431.10,199.37 L431.60,192.18 L432.10,190.26 L432.60,189.29 L433.10,187.67 L433.60,186.86 L434.10,184.56 L434.60,182.52 L435.10,180.77 L435.60,179.01 L436.10,177.43 L436.60,176.05 L437.10,175.27 L437.60,174.03 L438.10,172.81 L438.60,171.60 L439.10,170.89 L439.60,169.96 L440.10,169.38 L440.60,168.42 L441.10,167.63 L441.60,167.17 L442.10,166.54 L442.60,165.53 L443.10,164.45 L443.60,164.08 L444.10,163.19 L444.60,162.82 L445.10,161.90 L445.60,161.31 L446.10,160.55 L446.60,159.77 L447.10,159.35 L447.60,158.64 L448.10,157.60 L448.60,156.83 L449.10,156.26 L449.60,155.61 L450.10,154.67 L450.60,154.59 L451.10,154.50 L451.60,153.88 L452.10,154.17 L452.60,153.81 L453.10,153.32 L453.60,153.06 L454.10,152.85 L454.60,152.58 L455.10,152.57 L455.60,151.90 L456.10,151.42 L456.60,150.65 L457.10,150.69 L457.60,149.78 L458.10,149.28 L458.60,148.60 L459.10,146.46 L459.60,142.36 L460.10,138.91 L460.60,133.95 L461.10,128.48 L461.60,123.66 L462.10,122.20 L462.60,120.66 L463.10,119.04 L463.60,118.38 L464.10,118.52 L464.60,118.43 L465.10,118.60 L465.60,118.33 L466.10,118.55 L466.60,118.88 L467.10,118.91 L467.60,119.62 L468.10,119.71 L468.60,119.84 L469.10,120.21 L469.60,120.90 L470.10,120.92 L470.60,121.00 L471.10,121.32 L471.60,122.03 L472.10,122.28 L472.60,122.92 L473.10,123.12 L473.60,123.98 L474.10,124.90 L474.60,125.13 L475.10,125.86 L475.60,126.87 L476.10,127.27 L476.60,127.74 L477.10,128.43 L477.60,129.27 L478.10,129.78 L478.60,130.05 L479.10,130.63 L479.60,131.68 L480.10,131.95 L480.60,132.04 L481.10,132.94 L481.60,132.77 L482.10,133.43 L482.60,134.18 L483.10,134.50 L483.60,134.22 L484.10,134.65 L484.60,134.44 L485.10,134.63 L485.60,134.65 L486.10,134.32 L486.60,133.04 L487.10,130.86 L487.60,129.06 L488.10,128.72 L488.60,129.23 L489.10,129.84 L489.60,130.53 L490.10,130.58 L490.60,131.17 L491.10,132.17 L491.60,132.81 L492.10,133.26 L492.60,134.02 L493.10,135.33 L493.60,137.04 L494.10,138.36 L494.60,139.58 L495.10,140.53 L495.60,142.22 L496.10,143.07 L496.60,144.01 L497.10,145.21 L497.60,146.68 L498.10,147.70 L498.60,149.28 L499.10,150.91 L499.60,152.82 L500.10,154.12 L500.60,155.28 L501.10,155.98 L501.60,157.00 L502.10,157.99 L502.60,158.97 L503.10,159.98 L503.60,160.46 L504.10,160.80 L504.60,160.67 L505.10,161.08 L505.60,161.10 L506.10,160.64 L506.60,160.28 L507.10,159.84 L507.60,159.31 L508.10,159.11 L508.60,157.85 L509.10,157.48 L509.60,157.03 L510.10,156.15 L510.60,155.33 L511.10,154.49 L511.60,153.26 L512.10,152.13 L512.60,150.60 L513.10,148.94 L513.60,144.75 L514.10,140.27 L514.60,135.27 L515.10,129.44 L515.60,124.00 L516.10,121.34 L516.60,118.30 L517.10,116.96 L517.60,116.57 L518.10,116.27 L518.60,116.15 L519.10,115.72 L519.60,115.68 L520.10,115.55 L520.60,115.19 L521.10,115.21 L521.60,115.19 L522.10,115.53 L522.60,115.25 L523.10,114.96 L523.60,115.37 L524.10,114.48 L524.60,114.16 L525.10,113.82 L525.60,113.28 L526.10,112.60 L526.60,111.88 L527.10,110.51 L527.60,109.50 L528.10,108.18 L528.60,108.61 L529.10,108.60 L529.60,108.33 L530.10,108.69 L530.60,110.28 L531.10,110.76 L531.60,111.62 L532.10,112.55 L532.60,113.21 L533.10,114.04 L533.60,114.15 L534.10,114.88 L534.60,115.46 L535.10,115.40 L535.60,116.10 L536.10,116.71 L536.60,116.73 L537.10,117.05 L537.60,117.25 L538.10,118.00 L538.60,118.35 L539.10,117.91 L539.60,118.30 L540.10,118.29 L540.60,118.55 L541.10,118.25 L541.60,118.44 L542.10,118.53 L542.60,118.70 L543.10,118.76 L543.60,118.63 L544.10,118.42 L544.60,118.17 L545.10,117.59 L545.60,117.64 L546.10,117.67 L546.60,117.53 L547.10,117.93 L547.60,118.46 L548.10,118.16 L548.60,118.92 L549.10,118.89 L549.60,119.69 L550.10,120.65 L550.60,120.76 L551.10,121.58 L551.60,122.11 L552.10,123.04 L552.60,123.71 L553.10,123.82 L553.60,124.56 L554.10,125.45 L554.60,125.80 L555.10,126.25 L555.60,127.63 L556.10,128.34 L556.60,129.44 L557.10,130.11 L557.60,131.79 L558.10,132.56 L558.60,133.99 L559.10,135.27 L559.60,136.02 L560.10,137.47 L560.60,138.65 L561.10,139.88 L561.60,140.94 L562.10,141.51 L562.60,142.54 L563.10,143.84 L563.60,144.64 L564.10,145.09 L564.60,145.64 L565.10,146.39 L565.60,146.92 L566.10,147.67 L566.60,147.87 L567.10,148.03 L567.60,147.34 L568.10,147.15 L568.60,146.68 L569.10,146.59 L569.60,145.81 L570.10,145.14 L570.60,144.63 L571.10,144.07 L571.60,143.36 L572.10,143.15 L572.60,142.76 L573.10,143.15 L573.60,142.92 L574.10,142.70 L574.60,142.27 L575.10,142.32 L575.60,142.27 L576.10,141.94 L576.60,141.76 L577.10,141.51 L577.60,140.81 L578.10,140.64 L578.60,140.47 L579.10,140.29 L579.60,140.26 L580.10,140.30 L580.60,140.14 L581.10,140.41 L581.60,140.62 L582.10,140.66 L582.60,140.88 L583.10,140.70 L583.60,140.82 L584.10,141.22 L584.60,141.65 L585.10,141.63 L585.60,141.64 L586.10,141.95 L586.60,142.45 L587.10,142.97 L587.60,142.87 L588.10,143.17 L588.60,143.69 L589.10,144.10 L589.60,143.85 L590.10,144.24 L590.60,144.38 L591.10,143.96 L591.60,144.09 L592.10,143.88 L592.60,143.87 L593.10,144.15 L593.60,144.01 L594.10,143.47 L594.60,143.23 L595.10,143.18 L595.60,142.25 L596.10,141.90 L596.60,141.36 L597.10,140.71 L597.60,140.20 L598.10,139.77 L598.60,139.45 L599.10,139.33 L599.60,138.62 L600.10,137.84 L600.60,137.65 L601.10,137.42 L601.60,137.67 L602.10,137.62 L602.60,138.14 L603.10,137.81 L603.60,138.21 L604.10,138.18 L604.60,138.40 L605.10,138.30 L605.60,138.56 L606.10,138.31 L606.60,138.57 L607.10,138.60 L607.60,138.61 L608.10,138.70 L608.60,138.75 L608.75,138.68" stroke="#ff0000" stroke-width="2.6"/>
<path d="M63.60,205.12 L64.05,205.03 L64.50,202.30 L64.95,202.33 L65.40,204.52 L65.85,204.16 L66.30,203.90 L66.75,202.78 L67.20,203.63 L67.65,203.59 L68.10,203.47 L68.55,202.16 L69.00,202.93 L69.45,202.78 L69.90,203.77 L70.35,204.58 L70.80,204.45 L71.25,203.23 L71.70,202.93 L72.15,202.40 L72.60,201.61 L73.05,201.13 L73.50,201.99 L73.95,201.11 L74.40,200.84 L74.85,201.93 L75.30,200.16 L75.75,199.48 L76.20,197.72 L76.65,196.30 L77.10,196.42 L77.55,195.10 L78.00,195.65 L78.45,196.55 L78.90,195.01 L79.35,192.96 L79.80,194.53 L80.25,193.87 L80.70,193.46 L81.15,193.75 L81.60,193.10 L82.05,192.96 L82.50,191.43 L82.95,193.09 L83.40,192.81 L83.85,190.20 L84.30,191.85 L84.75,191.61 L85.20,190.72 L85.65,190.80 L86.10,190.54 L86.55,191.72 L87.00,190.32 L87.45,191.18 L87.90,189.62 L88.35,191.11 L88.80,191.10 L89.25,189.73 L89.70,189.98 L90.15,190.98 L90.60,190.33 L91.05,189.56 L91.50,188.70 L91.95,188.95 L92.40,190.01 L92.85,188.28 L93.30,190.35 L93.75,188.28 L94.20,190.06 L94.65,188.10 L95.10,189.89 L95.55,188.98 L96.00,188.22 L96.45,188.11 L96.90,188.36 L97.35,188.01 L97.80,187.16 L98.25,186.90 L98.70,187.85 L99.15,189.16 L99.60,188.27 L100.05,186.67 L100.50,188.95 L100.95,188.71 L101.40,189.30 L101.85,187.20 L102.30,187.90 L102.75,184.83 L103.20,185.60 L103.65,183.45 L104.10,182.30 L104.55,183.36 L105.00,180.38 L105.45,180.95 L105.90,181.27 L106.35,178.77 L106.80,177.99 L107.25,179.70 L107.70,178.11 L108.15,178.76 L108.60,176.48 L109.05,177.25 L109.50,176.55 L109.95,178.18 L110.40,176.54 L110.85,179.29 L111.30,176.63 L111.75,178.87 L112.20,176.87 L112.65,177.70 L113.10,179.50 L113.55,177.66 L114.00,178.02 L114.45,179.92 L114.90,179.39 L115.35,178.75 L115.80,181.98 L116.25,179.85 L116.70,179.89 L117.15,181.20 L117.60,182.40 L118.05,183.16 L118.50,182.01 L118.95,183.50 L119.40,183.39 L119.85,185.45 L120.30,187.21 L120.75,187.94 L121.20,189.24 L121.65,189.36 L122.10,190.20 L122.55,190.26 L123.00,190.09 L123.45,189.87 L123.90,191.70 L124.35,191.19 L124.80,191.07 L125.25,192.47 L125.70,193.97 L126.15,191.96 L126.60,193.55 L127.05,193.20 L127.50,193.79 L127.95,192.91 L128.40,195.58 L128.85,193.70 L129.30,194.97 L129.75,194.63 L130.20,193.45 L130.65,194.85 L131.10,193.37 L131.55,192.90 L132.00,192.60 L132.45,192.76 L132.90,192.34 L133.35,193.73 L133.80,193.08 L134.25,193.88 L134.70,193.10 L135.15,192.65 L135.60,189.73 L136.05,189.74 L136.50,188.53 L136.95,188.95 L137.40,188.60 L137.85,188.68 L138.30,187.95 L138.75,186.14 L139.20,187.09 L139.65,187.85 L140.10,186.74 L140.55,187.28 L141.00,188.85 L141.45,188.27 L141.90,190.23 L142.35,188.91 L142.80,188.62 L143.25,188.99 L143.70,189.27 L144.15,189.36 L144.60,190.39 L145.05,190.35 L145.50,190.02 L145.95,191.38 L146.40,190.54 L146.85,193.07 L147.30,193.69 L147.75,193.44 L148.20,193.00 L148.65,193.68 L149.10,194.55 L149.55,193.68 L150.00,195.50 L150.45,196.55 L150.90,196.23 L151.35,196.69 L151.80,199.54 L152.25,198.91 L152.70,200.05 L153.15,201.93 L153.60,201.67 L154.05,201.38 L154.50,204.14 L154.95,202.98 L155.40,202.59 L155.85,204.97 L156.30,203.29 L156.75,203.98 L157.20,205.66 L157.65,205.23 L158.10,203.33 L158.55,204.72 L159.00,204.67 L159.45,205.09 L159.90,205.04 L160.35,206.97 L160.80,206.22 L161.25,207.63 L161.70,208.69 L162.15,210.88 L162.60,208.62 L163.05,210.98 L163.50,209.61 L163.95,211.07 L164.40,210.85 L164.85,211.39 L165.30,212.58 L165.75,211.83 L166.20,211.33 L166.65,211.37 L167.10,211.24 L167.55,213.55 L168.00,212.92 L168.45,213.88 L168.90,213.08 L169.35,211.07 L169.80,212.98 L170.25,213.33 L170.70,213.17 L171.15,212.49 L171.60,212.13 L172.05,212.50 L172.50,213.60 L172.95,212.09 L173.40,212.94 L173.85,212.87 L174.30,214.37 L174.75,214.00 L175.20,214.22 L175.65,213.48 L176.10,211.42 L176.55,210.77 L177.00,211.09 L177.45,209.95 L177.90,210.01 L178.35,209.91 L178.80,209.37 L179.25,207.11 L179.70,206.54 L180.15,203.12 L180.60,202.64 L181.05,203.30 L181.50,199.77 L181.95,199.83 L182.40,198.03 L182.85,197.34 L183.30,199.02 L183.75,198.55 L184.20,196.78 L184.65,194.47 L185.10,193.96 L185.55,191.81 L186.00,191.18 L186.45,189.26 L186.90,186.62 L187.35,185.64 L187.80,183.17 L188.25,183.22 L188.70,183.21 L189.15,181.39 L189.60,178.38 L190.05,178.83 L190.50,178.62 L190.95,176.44 L191.40,177.54 L191.85,175.43 L192.30,175.34 L192.75,173.96 L193.20,175.51 L193.65,174.65 L194.10,173.80 L194.55,172.28 L195.00,172.95 L195.45,171.49 L195.90,172.96 L196.35,173.60 L196.80,171.27 L197.25,172.03 L197.70,171.80 L198.15,171.51 L198.60,172.37 L199.05,172.99 L199.50,172.24 L199.95,171.49 L200.40,172.90 L200.85,170.95 L201.30,172.14 L201.75,171.82 L202.20,172.07 L202.65,172.16 L203.10,169.82 L203.55,170.56 L204.00,169.46 L204.45,169.80 L204.90,170.28 L205.35,168.80 L205.80,166.48 L206.25,167.39 L206.70,167.68 L207.15,167.75 L207.60,166.64 L208.05,166.88 L208.50,164.23 L208.95,166.75 L209.40,165.85 L209.85,165.23 L210.30,165.87 L210.75,165.55 L211.20,162.94 L211.65,164.83 L212.10,163.88 L212.55,160.82 L213.00,161.11 L213.45,159.28 L213.90,156.75 L214.35,157.24 L214.80,153.18 L215.25,152.50 L215.70,149.87 L216.15,147.23 L216.60,146.72 L217.05,145.16 L217.50,143.11 L217.95,144.14 L218.40,140.20 L218.85,138.73 L219.30,138.92 L219.75,138.86 L220.20,137.25 L220.65,136.45 L221.10,134.57 L221.55,134.05 L222.00,131.95 L222.45,130.67 L222.90,130.59 L223.35,128.42 L223.80,127.82 L224.25,129.10 L224.70,126.60 L225.15,127.58 L225.60,126.94 L226.05,125.05 L226.50,125.19 L226.95,124.93 L227.40,124.56 L227.85,121.77 L228.30,121.25 L228.75,121.31 L229.20,120.96 L229.65,119.85 L230.10,118.48 L230.55,119.90 L231.00,120.90 L231.45,118.87 L231.90,119.16 L232.35,118.47 L232.80,118.43 L233.25,119.49 L233.70,117.58 L234.15,118.37 L234.60,117.65 L235.05,117.59 L235.50,118.46 L235.95,115.69 L236.40,117.67 L236.85,115.86 L237.30,116.62 L237.75,116.82 L238.20,116.13 L238.65,115.09 L239.10,116.18 L239.55,113.78 L240.00,115.40 L240.45,114.67 L240.90,115.09 L241.35,116.05 L241.80,115.89 L242.25,110.14 L242.70,105.35 L243.15,104.41 L243.60,104.36 L244.05,102.97 L244.50,102.38 L244.95,103.70 L245.40,100.45 L245.85,102.28 L246.30,101.11 L246.75,101.22 L247.20,101.23 L247.65,100.66 L248.10,101.95 L248.55,101.22 L249.00,102.20 L249.45,101.91 L249.90,103.95 L250.35,104.25 L250.80,103.04 L251.25,103.86 L251.70,104.95 L252.15,103.37 L252.60,102.91 L253.05,103.55 L253.50,103.76 L253.95,105.60 L254.40,105.06 L254.85,105.38 L255.30,107.07 L255.75,105.76 L256.20,107.86 L256.65,107.71 L257.10,107.50 L257.55,109.37 L258.00,108.53 L258.45,110.74 L258.90,111.48 L259.35,110.81 L259.80,111.97 L260.25,113.35 L260.70,113.35 L261.15,114.09 L261.60,115.17 L262.05,116.09 L262.50,116.26 L262.95,117.66 L263.40,116.31 L263.85,117.94 L264.30,118.42 L264.75,117.85 L265.20,118.27 L265.65,117.95 L266.10,120.64 L266.55,118.11 L267.00,117.24 L267.45,117.26 L267.90,113.90 L268.35,114.98 L268.80,111.21 L269.25,109.33 L269.70,108.73 L270.15,107.18 L270.60,107.28 L271.05,105.60 L271.50,104.33 L271.95,103.00 L272.40,102.96 L272.85,101.68 L273.30,103.11 L273.75,101.42 L274.20,100.74 L274.65,101.62 L275.10,100.08 L275.55,100.50 L276.00,102.26 L276.45,99.69 L276.90,99.76 L277.35,99.87 L277.80,99.93 L278.25,100.29 L278.70,99.42 L279.15,99.33 L279.60,98.68 L280.05,98.31 L280.50,99.06 L280.95,97.87 L281.40,97.86 L281.85,99.38 L282.30,97.60 L282.75,98.18 L283.20,100.64 L283.65,99.71 L284.10,101.01 L284.55,99.30 L285.00,100.69 L285.45,101.89 L285.90,100.59 L286.35,102.10 L286.80,101.86 L287.25,101.43 L287.70,103.47 L288.15,101.88 L288.60,102.35 L289.05,103.01 L289.50,102.33 L289.95,104.11 L290.40,103.62 L290.85,103.81 L291.30,103.84 L291.75,104.95 L292.20,104.74 L292.65,104.07 L293.10,102.69 L293.55,102.34 L294.00,102.45 L294.45,100.79 L294.90,100.75 L295.35,102.89 L295.80,99.69 L296.25,101.52 L296.70,100.15 L297.15,100.25 L297.60,97.14 L298.05,97.23 L298.50,98.10 L298.95,95.30 L299.40,95.37 L299.85,95.88 L300.30,95.12 L300.75,94.82 L301.20,96.16 L301.65,94.20 L302.10,96.61 L302.55,95.49 L303.00,94.07 L303.45,96.99 L303.90,95.39 L304.35,96.49 L304.80,97.09 L305.25,96.21 L305.70,97.67 L306.15,96.72 L306.60,97.52 L307.05,100.05 L307.50,100.13 L307.95,99.61 L308.40,100.46 L308.85,101.42 L309.30,99.59 L309.75,101.02 L310.20,100.47 L310.65,101.14 L311.10,101.83 L311.55,102.87 L312.00,103.11 L312.45,104.32 L312.90,105.53 L313.35,107.29 L313.80,109.35 L314.25,110.84 L314.70,111.95 L315.15,113.12 L315.60,116.15 L316.05,115.69 L316.50,117.32 L316.95,121.30 L317.40,122.83 L317.85,123.68 L318.30,126.28 L318.75,128.14 L319.20,129.89 L319.65,131.23 L320.10,132.49 L320.55,135.04 L321.00,136.43 L321.45,136.77 L321.90,137.25 L322.35,137.44 L322.80,139.63 L323.25,140.76 L323.70,138.22 L324.15,139.37 L324.60,139.09 L325.05,138.69 L325.50,136.54 L325.95,137.84 L326.40,136.52 L326.85,136.22 L327.30,137.11 L327.75,137.04 L328.20,136.71 L328.65,136.79 L329.10,136.40 L329.55,135.62 L330.00,134.52 L330.45,136.87 L330.90,137.20 L331.35,137.42 L331.80,136.89 L332.25,135.39 L332.70,135.93 L333.15,135.59 L333.60,137.10 L334.05,136.75 L334.50,135.60 L334.95,137.83 L335.40,137.83 L335.85,137.51 L336.30,136.16 L336.75,135.79 L337.20,135.69 L337.65,137.69 L338.10,137.47 L338.55,136.35 L339.00,138.37 L339.45,137.52 L339.90,137.20 L340.35,137.30 L340.80,138.29 L341.25,137.57 L341.70,138.26 L342.15,136.72 L342.60,138.54 L343.05,137.33 L343.50,139.31 L343.95,137.33 L344.40,137.84 L344.85,138.61 L345.30,138.32 L345.75,138.87 L346.20,140.21 L346.65,138.20 L347.10,140.06 L347.55,139.97 L348.00,140.36 L348.45,139.46 L348.90,139.59 L349.35,139.38 L349.80,139.87 L350.25,139.10 L350.70,138.61 L351.15,139.16 L351.60,138.01 L352.05,138.54 L352.50,138.55 L352.95,137.46 L353.40,136.74 L353.85,137.75 L354.30,138.21 L354.75,136.00 L355.20,136.88 L355.65,136.71 L356.10,137.09 L356.55,136.18 L357.00,134.76 L357.45,134.16 L357.90,136.01 L358.35,134.40 L358.80,133.54 L359.25,136.11 L359.70,134.09 L360.15,134.44 L360.60,134.46 L361.05,134.52 L361.50,136.20 L361.95,135.32 L362.40,135.89 L362.85,136.09 L363.30,137.61 L363.75,135.43 L364.20,137.34 L364.65,136.22 L365.10,136.50 L365.55,138.10 L366.00,137.63 L366.45,136.92 L366.90,138.71 L367.35,139.92 L367.80,139.44 L368.25,139.36 L368.70,140.65 L369.15,141.37 L369.60,139.45 L370.05,140.27 L370.50,142.64 L370.95,142.90 L371.40,141.10 L371.85,142.94 L372.30,143.79 L372.75,143.27 L373.20,143.94 L373.65,143.75 L374.10,143.15 L374.55,143.35 L375.00,143.15 L375.45,145.22 L375.90,143.89 L376.35,145.60 L376.80,145.17 L377.25,145.56 L377.70,147.42 L378.15,145.92 L378.60,146.11 L379.05,145.76 L379.50,145.20 L379.95,145.16 L380.40,146.02 L380.85,146.81 L381.30,144.57 L381.75,147.07 L382.20,146.19 L382.65,144.33 L383.10,146.42 L383.55,145.63 L384.00,146.10 L384.45,144.99 L384.90,146.34 L385.35,146.50 L385.80,147.42 L386.25,146.94 L386.70,147.44 L387.15,147.81 L387.60,146.64 L388.05,146.43 L388.50,148.16 L388.95,147.49 L389.40,147.90 L389.85,148.82 L390.30,149.84 L390.75,150.55 L391.20,151.36 L391.65,152.97 L392.10,151.17 L392.55,153.25 L393.00,152.56 L393.45,155.03 L393.90,154.99 L394.35,154.62 L394.80,155.66 L395.25,157.23 L395.70,157.19 L396.15,159.13 L396.60,157.89 L397.05,158.37 L397.50,160.64 L397.95,160.37 L398.40,159.55 L398.85,162.25 L399.30,161.67 L399.75,164.09 L400.20,163.83 L400.65,165.01 L401.10,165.96 L401.55,165.29 L402.00,167.04 L402.45,164.61 L402.90,165.94 L403.35,167.81 L403.80,165.71 L404.25,168.09 L404.70,169.45 L405.15,168.99 L405.60,169.82 L406.05,167.72 L406.50,169.37 L406.95,169.84 L407.40,169.57 L407.85,169.78 L408.30,171.15 L408.75,169.52 L409.20,169.43 L409.65,171.33 L410.10,172.73 L410.55,172.69 L411.00,172.60 L411.45,171.84 L411.90,174.05 L412.35,171.83 L412.80,172.82 L413.25,174.82 L413.70,175.52 L414.15,174.48 L414.60,176.45 L415.05,174.55 L415.50,176.82 L415.95,176.04 L416.40,177.35 L416.85,178.02 L417.30,178.28 L417.75,180.29 L418.20,181.42 L418.65,181.75 L419.10,183.85 L419.55,183.04 L420.00,185.43 L420.45,186.45 L420.90,187.06 L421.35,189.50 L421.80,187.74 L422.25,189.24 L422.70,189.94 L423.15,190.28 L423.60,192.68 L424.05,192.07 L424.50,192.51 L424.95,192.88 L425.40,193.29 L425.85,195.22 L426.30,195.16 L426.75,195.10 L427.20,194.04 L427.65,195.73 L428.10,194.72 L428.55,195.78 L429.00,195.19 L429.45,197.63 L429.90,198.84 L430.35,197.49 L430.80,196.75 L431.25,195.25 L431.70,195.29 L432.15,194.81 L432.60,194.15 L433.05,193.15 L433.50,192.16 L433.95,192.85 L434.40,192.56 L434.85,191.26 L435.30,189.76 L435.75,187.08 L436.20,187.01 L436.65,187.80 L437.10,187.39 L437.55,185.30 L438.00,184.56 L438.45,184.10 L438.90,181.97 L439.35,182.56 L439.80,181.12 L440.25,182.19 L440.70,180.66 L441.15,180.89 L441.60,180.19 L442.05,179.75 L442.50,179.15 L442.95,180.25 L443.40,179.29 L443.85,177.93 L444.30,177.83 L444.75,178.64 L445.20,177.83 L445.65,177.19 L446.10,177.75 L446.55,174.68 L447.00,175.49 L447.45,174.94 L447.90,173.80 L448.35,174.70 L448.80,174.08 L449.25,171.72 L449.70,171.99 L450.15,172.12 L450.60,171.59 L451.05,170.27 L451.50,171.25 L451.95,169.58 L452.40,168.66 L452.85,169.89 L453.30,169.52 L453.75,168.48 L454.20,168.43 L454.65,169.57 L455.10,168.71 L455.55,167.19 L456.00,168.38 L456.45,167.03 L456.90,166.21 L457.35,166.62 L457.80,166.71 L458.25,166.64 L458.70,165.33 L459.15,164.69 L459.60,163.26 L460.05,161.55 L460.50,162.16 L460.95,160.51 L461.40,161.08 L461.85,154.84 L462.30,153.62 L462.75,152.20 L463.20,148.74 L463.65,148.90 L464.10,146.28 L464.55,144.64 L465.00,145.30 L465.45,143.81 L465.90,144.46 L466.35,142.25 L466.80,140.83 L467.25,140.22 L467.70,139.88 L468.15,140.90 L468.60,141.18 L469.05,138.82 L469.50,139.28 L469.95,139.35 L470.40,140.25 L470.85,140.11 L471.30,139.46 L471.75,138.39 L472.20,137.84 L472.65,136.42 L473.10,137.23 L473.55,136.01 L474.00,136.58 L474.45,138.31 L474.90,137.67 L475.35,138.30 L475.80,137.66 L476.25,137.25 L476.70,138.08 L477.15,138.53 L477.60,137.83 L478.05,139.94 L478.50,140.65 L478.95,138.55 L479.40,139.03 L479.85,141.04 L480.30,141.07 L480.75,139.85 L481.20,141.13 L481.65,140.28 L482.10,142.35 L482.55,141.71 L483.00,141.68 L483.45,140.82 L483.90,141.75 L484.35,142.14 L484.80,142.00 L485.25,141.41 L485.70,141.24 L486.15,142.53 L486.60,142.97 L487.05,142.51 L487.50,141.60 L487.95,141.90 L488.40,139.70 L488.85,139.65 L489.30,140.69 L489.75,138.13 L490.20,137.93 L490.65,139.56 L491.10,137.37 L491.55,137.48 L492.00,138.56 L492.45,140.34 L492.90,138.31 L493.35,141.36 L493.80,140.09 L494.25,141.34 L494.70,141.56 L495.15,141.05 L495.60,144.09 L496.05,142.29 L496.50,144.71 L496.95,145.48 L497.40,144.74 L497.85,147.08 L498.30,145.29 L498.75,146.44 L499.20,148.13 L499.65,147.57 L500.10,150.45 L500.55,150.28 L501.00,151.77 L501.45,150.91 L501.90,150.81 L502.35,154.07 L502.80,152.65 L503.25,153.88 L503.70,153.60 L504.15,155.59 L504.60,155.82 L505.05,155.62 L505.50,155.74 L505.95,157.24 L506.40,159.00 L506.85,157.19 L507.30,157.49 L507.75,158.73 L508.20,158.86 L508.65,159.44 L509.10,159.04 L509.55,159.72 L510.00,157.72 L510.45,159.64 L510.90,156.59 L511.35,156.48 L511.80,156.06 L512.25,157.70 L512.70,156.51 L513.15,157.39 L513.60,157.17 L514.05,156.16 L514.50,153.90 L514.95,151.88 L515.40,152.46 L515.85,150.55 L516.30,147.64 L516.75,146.91 L517.20,143.51 L517.65,141.70 L518.10,141.77 L518.55,141.06 L519.00,140.58 L519.45,139.36 L519.90,136.61 L520.35,137.51 L520.80,137.52 L521.25,136.16 L521.70,135.12 L522.15,134.11 L522.60,132.97 L523.05,134.20 L523.50,134.76 L523.95,131.77 L524.40,133.43 L524.85,132.98 L525.30,130.67 L525.75,131.48 L526.20,128.73 L526.65,128.49 L527.10,128.61 L527.55,128.88 L528.00,127.17 L528.45,125.40 L528.90,127.58 L529.35,126.17 L529.80,126.46 L530.25,124.47 L530.70,123.88 L531.15,121.77 L531.60,124.76 L532.05,125.83 L532.50,126.07 L532.95,127.13 L533.40,127.98 L533.85,126.81 L534.30,128.90 L534.75,128.41 L535.20,127.63 L535.65,127.10 L536.10,129.36 L536.55,128.40 L537.00,126.50 L537.45,128.37 L537.90,127.40 L538.35,127.47 L538.80,128.45 L539.25,126.76 L539.70,126.84 L540.15,127.62 L540.60,128.71 L541.05,126.26 L541.50,128.50 L541.95,128.16 L542.40,126.53 L542.85,127.99 L543.30,127.86 L543.75,128.13 L544.20,127.61 L544.65,126.94 L545.10,127.50 L545.55,126.64 L546.00,127.24 L546.45,127.04 L546.90,126.08 L547.35,126.40 L547.80,126.68 L548.25,126.77 L548.70,127.23 L549.15,127.72 L549.60,126.20 L550.05,127.05 L550.50,126.47 L550.95,126.21 L551.40,126.03 L551.85,128.56 L552.30,128.56 L552.75,128.33 L553.20,126.42 L553.65,126.44 L554.10,126.73 L554.55,127.86 L555.00,128.78 L555.45,128.06 L555.90,129.85 L556.35,131.19 L556.80,132.16 L557.25,130.82 L557.70,130.86 L558.15,133.83 L558.60,133.19 L559.05,133.59 L559.50,133.71 L559.95,134.66 L560.40,135.25 L560.85,135.82 L561.30,136.35 L561.75,137.80 L562.20,139.29 L562.65,138.38 L563.10,139.30 L563.55,140.10 L564.00,141.78 L564.45,142.12 L564.90,143.23 L565.35,141.24 L565.80,143.59 L566.25,142.51 L566.70,143.80 L567.15,144.11 L567.60,144.70 L568.05,144.39 L568.50,143.78 L568.95,143.66 L569.40,146.49 L569.85,146.45 L570.30,145.24 L570.75,144.21 L571.20,146.53 L571.65,145.59 L572.10,145.57 L572.55,146.14 L573.00,144.76 L573.45,145.01 L573.90,146.86 L574.35,146.68 L574.80,147.49 L575.25,145.91 L575.70,147.59 L576.15,147.40 L576.60,146.14 L577.05,147.13 L577.50,144.77 L577.95,144.32 L578.40,146.39 L578.85,144.20 L579.30,145.15 L579.75,145.65 L580.20,145.31 L580.65,143.76 L581.10,145.29 L581.55,143.20 L582.00,145.06 L582.45,146.37 L582.90,145.61 L583.35,145.18 L583.80,147.57 L584.25,147.06 L584.70,147.55 L585.15,148.10 L585.60,148.33 L586.05,147.36 L586.50,148.22 L586.95,147.37 L587.40,146.74 L587.85,146.92 L588.30,146.99 L588.75,146.39 L589.20,148.28 L589.65,147.74 L590.10,149.36 L590.55,146.78 L591.00,148.97 L591.45,147.21 L591.90,147.60 L592.35,147.50 L592.80,149.50 L593.25,148.56 L593.70,148.03 L594.15,147.18 L594.60,146.77 L595.05,147.73 L595.50,149.55 L595.95,147.96 L596.40,148.65 L596.85,149.27 L597.30,146.77 L597.75,147.59 L598.20,147.88 L598.65,147.30 L599.10,147.48 L599.55,148.00 L600.00,145.99 L600.45,147.29 L600.90,145.72 L601.35,146.43 L601.80,144.60 L602.25,146.08 L602.70,144.79 L603.15,146.11 L603.60,146.59 L604.05,145.50 L604.50,143.90 L604.95,145.01 L605.40,146.91 L605.85,146.01 L606.30,146.40 L606.75,145.55 L607.20,146.95 L607.65,146.85 L608.10,145.96 L608.55,145.89 L608.75,144.43" stroke="#00ff00" stroke-width="3.0"/>
<path d="M65.00,373.75 L65.25,360.00 L66.00,367.50 L66.50,335.00 L67.50,327.50 L68.10,335.00 L69.00,343.00 L69.75,356.00 L70.40,372.50 L71.00,357.50 L71.50,336.00 L72.10,347.50 L72.50,333.75 L73.10,346.00 L73.75,326.00 L74.50,318.00 L75.00,312.00 L76.00,306.90 L76.90,290.00 L77.75,281.90 L78.50,268.75 L79.40,255.00 L80.60,247.50 L81.90,245.00 L83.10,243.75 L84.40,236.25 L85.60,234.40 L86.90,238.75 L88.10,235.00 L89.40,232.50 L90.60,236.25 L91.25,241.25 L92.25,250.00 L93.75,251.90 L95.60,251.25 L96.90,246.25 L98.50,241.90 L99.75,245.00 L101.00,248.10 L102.25,242.50 L103.10,241.90 L103.50,250.00 L103.75,261.25 L104.50,267.50 L104.75,279.40 L105.60,270.00 L106.90,275.00 L107.50,284.40 L108.75,277.50 L110.00,280.00 L110.60,287.50 L111.50,301.25 L112.25,296.25 L112.75,282.50 L113.50,275.00 L113.80,267.50 L114.40,260.00 L115.60,258.00 L116.50,261.25 L117.50,270.00 L119.00,265.60 L120.00,270.00 L121.25,275.00 L122.50,272.50 L123.75,267.50 L125.00,270.00 L126.90,271.90 L128.30,273.00 L129.40,261.25 L130.60,251.25 L131.90,238.75 L133.10,228.50 L134.00,223.10 L134.75,231.25 L135.60,242.50 L136.90,252.50 L137.75,258.75 L139.40,257.50 L140.60,261.25 L141.90,268.75 L142.50,275.00 L142.50,280.60 L144.40,283.00 L146.25,287.50 L148.00,293.00 L151.00,298.00 L152.50,305.60 L154.40,310.00 L155.60,317.50 L155.60,323.75 L157.50,323.75 L158.00,327.50 L159.00,322.50 L159.75,318.75 L161.90,318.00 L163.00,310.00 L164.00,305.00 L164.75,295.00 L166.00,288.75 L167.50,287.00 L168.50,290.00 L169.40,282.50 L169.75,275.00 L171.25,276.25 L172.20,271.25 L173.00,262.50 L174.00,253.75 L174.75,242.50 L175.60,233.75 L176.90,225.00 L177.75,215.00 L179.40,207.50 L181.40,191.80 L183.00,194.90 L184.60,193.90 L185.40,195.40 L185.60,213.10 L186.50,223.50 L187.50,217.30 L188.75,218.30 L189.60,231.40 L190.60,223.50 L191.40,230.30 L192.40,220.90 L193.40,224.60 L194.50,215.20 L195.50,216.80 L196.60,210.00 L197.60,204.30 L199.20,200.60 L200.20,198.50 L201.25,198.00 L202.30,194.40 L203.30,191.25 L204.40,189.70 L204.90,185.00 L205.40,180.00 L206.25,171.50 L208.00,168.75 L210.00,163.75 L211.90,157.50 L213.00,145.00 L213.75,132.50 L215.00,117.50 L216.25,110.00 L218.00,98.00 L220.00,96.00 L222.50,105.00 L223.75,98.75 L225.60,95.60 L227.50,95.00 L229.40,93.75 L230.60,96.25 L231.25,100.00 L232.50,102.50 L234.40,105.00 L236.25,106.90 L238.75,108.75 L240.60,107.80 L241.25,115.50 L242.50,123.75 L243.30,126.50 L245.00,128.75 L245.60,135.00 L246.90,141.25 L248.75,145.60 L250.60,152.50 L251.90,148.00 L253.00,147.50 L254.40,151.90 L256.00,155.00 L256.90,162.50 L258.00,171.25 L260.00,176.25 L261.50,178.75 L262.20,182.00 L263.00,187.50 L264.75,192.50 L265.60,197.50 L266.90,193.75 L267.50,190.60 L268.40,189.40 L268.75,198.75 L270.00,200.00 L270.60,202.50 L271.50,198.75 L273.00,200.60 L275.00,201.25 L276.25,201.25 L276.90,196.25 L277.75,189.40 L279.00,185.00 L279.75,166.25 L281.00,163.75 L282.25,161.90 L282.75,151.25 L283.50,149.40 L284.00,153.75 L285.25,155.00 L287.50,152.50 L289.00,150.00 L290.00,143.00 L292.50,143.00 L295.00,141.90 L296.50,141.25 L297.25,145.00 L297.75,160.00 L298.75,167.50 L300.00,172.50 L300.80,183.00 L301.30,191.00 L302.50,185.00 L303.60,186.90 L305.00,189.20 L306.90,188.75 L308.75,190.60 L310.60,192.50 L311.90,194.60 L313.50,196.90 L314.40,201.90 L315.00,208.75 L315.60,220.00 L316.40,222.50 L316.90,232.50 L317.50,249.40 L318.50,235.00 L319.40,234.40 L320.25,236.25 L321.00,232.50 L321.50,221.25 L322.70,216.25 L324.20,211.00 L325.00,203.75 L325.60,196.25 L326.90,192.50 L328.00,195.00 L329.00,191.90 L329.75,188.75 L330.60,192.50 L331.90,194.40 L333.00,196.90 L333.75,192.50 L335.00,186.90 L336.25,188.00 L337.50,185.60 L338.75,183.00 L340.00,178.75 L341.90,178.50 L343.75,180.00 L344.75,183.75 L345.60,188.75 L346.90,192.50 L348.00,190.00 L349.40,186.90 L351.25,183.75 L352.50,182.50 L354.40,185.60 L356.25,185.60 L357.50,188.75 L359.00,190.00 L360.60,188.75 L361.90,191.25 L363.00,190.00 L364.40,193.75 L365.60,196.25 L366.90,194.40 L368.75,196.25 L370.60,198.00 L371.90,199.40 L373.00,197.50 L374.75,195.60 L375.60,200.00 L376.60,204.40 L378.00,207.20 L380.00,203.50 L381.90,205.60 L383.00,204.40 L384.40,201.25 L386.25,205.60 L388.00,203.75 L390.60,203.00 L391.50,208.75 L392.50,220.00 L393.50,226.25 L394.00,232.50 L395.60,231.25 L396.90,238.75 L397.75,242.50 L399.40,236.90 L400.80,239.40 L401.90,246.00 L403.00,251.00 L404.60,248.50 L405.80,244.00 L407.30,240.80 L409.00,241.90 L410.30,247.00 L412.00,247.80 L413.00,251.00 L414.40,255.00 L415.60,251.80 L416.50,247.50 L417.25,253.00 L417.75,260.60 L419.00,265.00 L420.00,271.90 L421.25,278.00 L422.25,271.25 L423.75,270.00 L425.00,266.25 L426.50,263.75 L428.00,266.25 L429.40,271.90 L430.60,278.00 L431.90,276.90 L433.00,271.90 L433.75,264.40 L434.60,252.00 L435.20,240.00 L435.80,235.00 L436.90,228.75 L437.50,220.00 L438.75,215.60 L440.60,211.90 L441.60,207.80 L442.90,205.80 L443.75,197.50 L445.25,192.50 L446.25,198.75 L447.25,210.00 L448.00,214.40 L449.40,213.00 L451.25,212.50 L453.00,213.00 L454.00,208.00 L455.00,203.75 L455.60,200.60 L456.50,207.50 L457.50,213.75 L458.75,218.75 L460.25,219.40 L461.50,214.40 L462.75,209.40 L464.40,207.50 L465.60,208.00 L466.90,205.60 L468.50,201.90 L470.00,195.60 L471.25,194.40 L472.25,196.90 L473.00,199.40 L474.40,201.25 L476.00,203.00 L477.50,201.25 L479.00,199.40 L479.75,203.75 L480.60,211.25 L481.90,217.50 L482.60,224.00 L483.60,230.00 L485.60,232.20 L486.70,237.00 L487.50,246.25 L488.00,253.75 L488.75,259.40 L490.00,261.90 L491.25,260.00 L491.90,264.40 L493.00,266.25 L494.40,265.00 L495.60,260.60 L496.90,256.90 L497.75,254.40 L499.00,259.40 L500.00,256.25 L501.25,255.00 L502.25,258.00 L503.00,256.25 L504.00,248.75 L505.00,242.50 L506.25,236.25 L507.50,231.25 L508.50,223.75 L509.40,217.50 L510.60,213.75 L511.90,222.50 L512.75,227.50 L513.75,228.00 L514.75,223.75 L516.00,220.60 L517.25,218.75 L517.75,225.00 L518.50,231.25 L519.00,236.25 L519.50,242.50 L519.75,232.50 L520.25,226.25 L521.00,222.50 L522.25,224.40 L523.50,227.50 L524.40,230.00 L525.25,225.60 L526.25,221.25 L526.90,215.00 L527.75,208.75 L528.50,201.25 L529.50,187.00 L530.20,178.50 L531.25,172.50 L532.50,168.00 L533.75,158.75 L535.00,155.60 L536.90,153.75 L537.50,146.60 L538.75,152.50 L539.40,161.00 L540.00,168.00 L540.60,177.50 L541.90,182.00 L543.00,187.50 L544.40,191.25 L545.25,196.25 L546.40,199.50 L546.90,210.00 L547.50,226.25 L548.50,234.40 L549.40,236.90 L549.75,228.75 L550.25,222.50 L551.50,219.40 L552.50,225.00 L553.75,230.00 L554.40,238.75 L554.75,230.00 L555.25,216.25 L556.25,218.00 L557.25,223.75 L558.00,228.00 L558.75,221.25 L559.40,214.40 L560.60,216.90 L561.50,221.25 L562.75,223.00 L563.75,218.75 L565.00,214.40 L566.25,212.50 L567.50,211.25 L568.00,208.75 L569.00,203.75 L569.75,197.50 L570.80,194.80 L572.10,192.20 L573.00,189.40 L574.00,190.00 L575.00,186.60 L576.10,180.00 L576.90,177.50 L578.00,175.00 L579.60,172.80 L580.60,172.50 L582.10,174.40 L583.00,179.00 L584.00,181.00 L585.40,182.20 L587.50,183.75 L589.60,184.00 L590.60,182.50 L591.90,180.00 L593.40,180.00 L595.60,180.00 L596.90,171.25 L597.75,163.00 L598.75,157.50 L599.75,152.50 L600.60,151.90 L601.50,155.00 L602.25,162.50 L603.00,167.50 L603.75,172.50 L604.75,176.25 L605.60,170.00 L606.90,165.60 L607.75,163.00 L608.50,166.90" stroke="#0000ff" stroke-width="1.0"/>
</g>
<rect x="73.5" y="49.5" width="148" height="60" fill="#fff" stroke="#000" stroke-width="1" shape-rendering="crispEdges"/>
<text x="162.5" y="60.70" text-anchor="end">T ambiante</text>
<path d="M171,57 H213" stroke="#ffa500" stroke-width="2" fill="none"/>
<text x="162.5" y="75.70" text-anchor="end">T Pt100</text>
<path d="M171,72 H213" stroke="#ff0000" stroke-width="2" fill="none"/>
<text x="162.5" y="90.70" text-anchor="end">T IR</text>
<path d="M171,87 H213" stroke="#00ff00" stroke-width="2" fill="none"/>
<text x="162.5" y="105.70" text-anchor="end">T rosée</text>
<path d="M172,102.5 H213" stroke="#0000ff" stroke-width="1" fill="none"/>
<rect x="64.5" y="45.5" width="548" height="366" fill="none" stroke="#000" stroke-width="1" shape-rendering="crispEdges"/>
<text x="54.8" y="48.9" text-anchor="end">16</text>
<text x="54.8" y="89.9" text-anchor="end">14</text>
<text x="54.8" y="129.9" text-anchor="end">12</text>
<text x="54.8" y="170.9" text-anchor="end">10</text>
<text x="54.8" y="211.9" text-anchor="end">8</text>
<text x="54.8" y="251.9" text-anchor="end">6</text>
<text x="54.8" y="292.9" text-anchor="end">4</text>
<text x="54.8" y="333.9" text-anchor="end">2</text>
<text x="54.8" y="373.9" text-anchor="end">0</text>
<text x="54.8" y="414.9" text-anchor="end">-2</text>
<text transform="translate(65.1,425.1) rotate(-45)" text-anchor="end">02-12</text>
<text transform="translate(120.1,425.1) rotate(-45)" text-anchor="end">04-12</text>
<text transform="translate(175.1,425.1) rotate(-45)" text-anchor="end">06-12</text>
<text transform="translate(229.1,425.1) rotate(-45)" text-anchor="end">08-12</text>
<text transform="translate(284.1,425.1) rotate(-45)" text-anchor="end">10-12</text>
<text transform="translate(339.1,425.1) rotate(-45)" text-anchor="end">12-12</text>
<text transform="translate(394.1,425.1) rotate(-45)" text-anchor="end">14-12</text>
<text transform="translate(449.1,425.1) rotate(-45)" text-anchor="end">16-12</text>
<text transform="translate(503.1,425.1) rotate(-45)" text-anchor="end">18-12</text>
<text transform="translate(558.1,425.1) rotate(-45)" text-anchor="end">20-12</text>
<text transform="translate(613.1,425.1) rotate(-45)" text-anchor="end">22-12</text>
<text x="161.8" y="26.8" textLength="351.6" lengthAdjust="spacing">Température et rosée au 21/12/2025 pour RHT11</text>
<text x="338.5" y="471.6" text-anchor="middle">Date</text>
<text transform="translate(17.0,284.6) rotate(-90)" textLength="115.0" lengthAdjust="spacing">Temperature °C</text>
</svg></body></html>
